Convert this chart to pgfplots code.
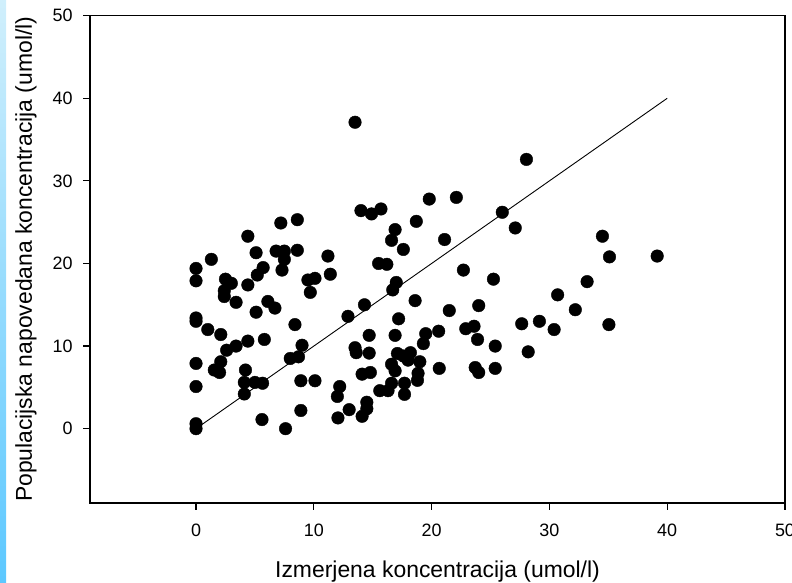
\documentclass[border=0pt]{standalone}
\usepackage{pgfplots}
\pgfplotsset{compat=1.18}
\usepackage{pgfplotstable}
\usepackage{fontspec}
\setmainfont{Liberation Sans}
\pgfplotstableread{
x y
0 19.4
0 17.9
0 13.4
0 13.0
0 7.9
0 5.1
0 0.6
0 0.0
1.3 20.5
1.0 12.0
2.1 11.4
1.55 7.1
2.0 6.8
2.1 8.1
2.5 18.1
3.0 17.6
2.4 16.7
2.4 16.0
3.4 15.3
4.4 23.3
4.4 17.4
5.1 21.3
5.7 19.5
5.2 18.6
6.1 15.4
6.7 14.6
5.1 14.1
7.2 24.9
8.6 25.3
6.8 21.5
7.5 21.5
7.5 20.5
7.3 19.2
8.6 21.6
9.5 18.0
10.1 18.2
9.7 16.5
11.2 20.9
11.4 18.7
12.9 13.6
8.4 12.6
3.4 10.0
2.6 9.5
4.4 10.6
5.8 10.8
9.0 10.1
8.0 8.5
8.7 8.7
4.2 7.1
4.1 5.6
5.0 5.6
5.65 5.5
4.1 4.2
8.9 5.8
10.1 5.8
5.6 1.1
7.6 0.0
8.9 2.2
12.2 5.1
12.0 3.9
13.0 2.3
12.05 1.3
13.5 37.1
14.0 26.4
14.9 26.0
15.7 26.6
19.8 27.8
22.1 28.0
26.0 26.2
27.1 24.3
18.7 25.1
16.9 24.1
16.6 22.8
17.6 21.7
21.1 22.9
15.5 20.0
16.2 19.9
22.7 19.2
25.25 18.1
17.0 17.7
16.7 16.8
14.3 15.0
18.6 15.5
21.5 14.3
24.0 14.9
17.2 13.3
13.5 9.8
13.6 9.2
14.7 11.3
16.9 11.3
19.5 11.5
19.3 10.3
20.6 11.8
22.9 12.1
23.6 12.4
23.9 10.8
25.4 10.0
14.7 9.15
17.1 9.1
17.6 8.8
18.2 9.2
18.0 8.3
19.0 8.1
16.6 7.8
16.9 7.0
18.85 6.7
18.8 5.85
20.65 7.3
23.7 7.4
24.0 6.8
25.4 7.3
14.1 6.6
14.8 6.8
16.6 5.5
16.3 4.6
15.6 4.6
17.7 5.5
17.7 4.15
14.5 3.2
14.5 2.4
14.1 1.5
28.05 32.6
34.5 23.3
35.1 20.8
39.15 20.9
33.2 17.8
30.7 16.2
32.2 14.4
27.65 12.7
29.15 13.0
30.4 12.0
35.05 12.6
28.2 9.3
}\pts
\begin{document}
\begin{tikzpicture}
\shade[top color={rgb,255:red,208;green,239;blue,252}, bottom color={rgb,255:red,92;green,200;blue,255}] (0,0) rectangle (6bp,583bp);
\begin{axis}[
  at={(90bp,80bp)}, anchor=south west,
  scale only axis, width=695bp, height=487.3bp,
  xmin=-9, xmax=50, ymin=-9, ymax=50,
  xtick={0,10,20,30,40,50}, ytick={0,10,20,30,40,50},
  xtick pos=bottom, ytick pos=left, tick align=outside,
  major tick length=6.5bp,
  axis line style={line width=1.2bp},
  every tick/.style={black, line width=1.2bp},
  /pgf/number format/assume math mode=true,
  tick label style={font=\fontsize{18}{21}\selectfont, inner sep=0pt},
  xticklabel style={yshift=-14.5bp},
  yticklabel style={xshift=-10.8bp},
  xlabel={Izmerjena koncentracija (umol/l)},
  ylabel={Populacijska napovedana koncentracija (umol/l)},
  xlabel style={at={(axis description cs:0.5,-0.1533)}, anchor=base, font=\fontsize{23}{27}\selectfont, inner sep=0pt},
  ylabel style={at={(axis description cs:-0.0837,0.5)}, anchor=base, font=\fontsize{23}{27}\selectfont, inner sep=0pt},
  clip=false,
]
\addplot[black, line width=0.9bp] coordinates {(0,0) (40,40)};
\addplot[only marks, mark=*, mark size=6.3bp, black, mark options={draw=black, fill=black}] table[x=x, y=y] {\pts};
\end{axis}
\pgfresetboundingbox
\path[use as bounding box] (0,0) rectangle (792bp,583bp);
\end{tikzpicture}
\end{document}
